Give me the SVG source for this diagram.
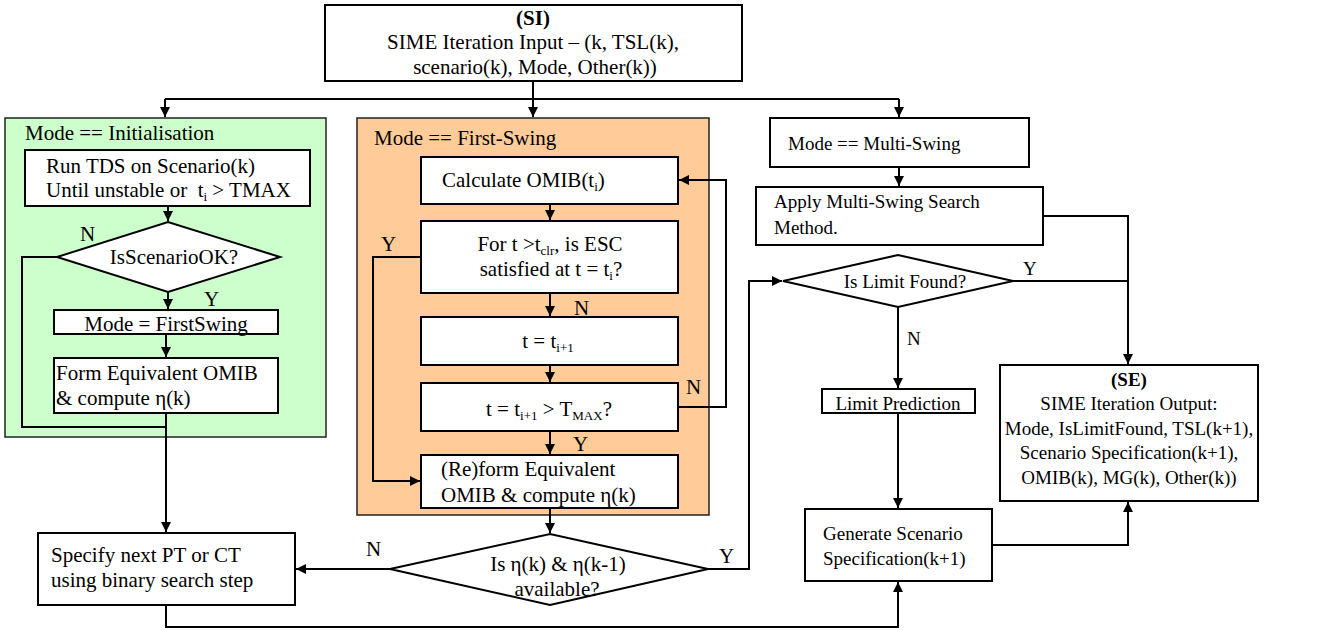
<svg xmlns="http://www.w3.org/2000/svg" width="1323" height="630" viewBox="0 0 1323 630">
<style>
text{font-family:"Liberation Serif","Times New Roman",serif;font-size:21px;fill:#000}
.r{font-size:19px}
.c{text-anchor:middle}
.b{font-weight:bold}
.box{fill:#fff;stroke:#000;stroke-width:2}
.reg{stroke:#222;stroke-width:1.5}
.ln{fill:none;stroke:#000;stroke-width:2}
.sub{font-size:13px}
</style>
<defs>
<marker id="ah" viewBox="0 0 10 10" refX="10" refY="5" markerWidth="10" markerHeight="10" markerUnits="userSpaceOnUse" orient="auto">
<path d="M0,0 L10,5 L0,10 z" fill="#000"/>
</marker>
</defs>
<rect width="1323" height="630" fill="#fff"/>

<g id="region-init"><rect class="reg" x="5" y="118" width="321" height="319" fill="#ccffcc"/><text x="25" y="140">Mode == Initialisation</text></g>
<g id="region-first"><rect class="reg" x="357" y="118" width="352" height="397" fill="#ffcc99"/><text x="374" y="145">Mode == First-Swing</text></g>

<g id="connectors">
<path class="ln" d="M533,81 V99"/>
<path class="ln" d="M165,99 H899"/>
<path class="ln" d="M165,99 V117" marker-end="url(#ah)"/>
<path class="ln" d="M533,99 V117" marker-end="url(#ah)"/>
<path class="ln" d="M899,99 V117" marker-end="url(#ah)"/>
<path class="ln" d="M168,206 V221" marker-end="url(#ah)"/>
<path class="ln" d="M168,292 V309" marker-end="url(#ah)"/>
<path class="ln" d="M166,334 V357" marker-end="url(#ah)"/>
<path class="ln" d="M57,257 H22 V427 H166"/>
<path class="ln" d="M166,413 V532" marker-end="url(#ah)"/>
<path class="ln" d="M550,204 V220" marker-end="url(#ah)"/>
<path class="ln" d="M550,293 V316" marker-end="url(#ah)"/>
<path class="ln" d="M550,365 V382" marker-end="url(#ah)"/>
<path class="ln" d="M550,431 V454" marker-end="url(#ah)"/>
<path class="ln" d="M421,257 H373 V481 H420" marker-end="url(#ah)"/>
<path class="ln" d="M678,407 H726 V180 H679" marker-end="url(#ah)"/>
<path class="ln" d="M550,508 V533" marker-end="url(#ah)"/>
<path class="ln" d="M390,569 H296" marker-end="url(#ah)"/>
<path class="ln" d="M708,569 H749 V281 H782" marker-end="url(#ah)"/>
<path class="ln" d="M899,167 V186" marker-end="url(#ah)"/>
<path class="ln" d="M1043,216 H1128 V364" marker-end="url(#ah)"/>
<path class="ln" d="M1013,281 H1128"/>
<path class="ln" d="M898,307 V388" marker-end="url(#ah)"/>
<path class="ln" d="M898,413 V508" marker-end="url(#ah)"/>
<path class="ln" d="M992,545 H1128 V502" marker-end="url(#ah)"/>
<path class="ln" d="M166,605 V627 H898 V582" marker-end="url(#ah)"/>
<text x="80" y="241">N</text>
<text x="204" y="306">Y</text>
<text x="381" y="251">Y</text>
<text x="574" y="315">N</text>
<text x="686" y="394">N</text>
<text x="573" y="451">Y</text>
<text x="366" y="556">N</text>
<text x="719" y="563">Y</text>
<text class="r" x="1023" y="275">Y</text>
<text class="r" x="907" y="345">N</text>
</g>

<g id="si"><rect class="box" x="325" y="5" width="417" height="76"/>
<text class="c b" x="533" y="25">(SI)</text>
<text class="c" x="533" y="49">SIME Iteration Input – (k, TSL(k),</text>
<text class="c" x="535" y="74">scenario(k), Mode, Other(k))</text></g>

<g id="run-tds"><rect class="box" x="25" y="150" width="285" height="56"/>
<text x="46" y="173">Run TDS on Scenario(k)</text>
<text x="46" y="197" xml:space="preserve">Until unstable or  t<tspan class="sub" dy="4">i</tspan><tspan dy="-4"> &gt; TMAX</tspan></text></g>

<g id="is-scenario-ok"><path class="box" d="M57,257 L168,222 L280,257 L168,292 z"/>
<text class="c" x="174" y="264">IsScenarioOK?</text></g>

<g id="mode-firstswing"><rect class="box" x="54" y="310" width="224" height="24"/>
<text class="c" x="166" y="331">Mode = FirstSwing</text></g>

<g id="form-omib"><rect class="box" x="54" y="358" width="224" height="55"/>
<text x="56" y="380">Form Equivalent OMIB</text>
<text x="56" y="405">&amp; compute η(k)</text></g>

<g id="specify"><rect class="box" x="38" y="533" width="257" height="72"/>
<text x="51" y="562">Specify next PT or CT</text>
<text x="51" y="587">using binary search step</text></g>

<g id="calc-omib"><rect class="box" x="421" y="157" width="257" height="47"/>
<text x="442" y="187">Calculate OMIB(t<tspan class="sub" dy="4">i</tspan><tspan dy="-4">)</tspan></text></g>

<g id="esc"><rect class="box" x="421" y="221" width="257" height="72"/>
<text class="c" x="550" y="251">For t &gt;t<tspan class="sub" dy="4">clr</tspan><tspan dy="-4">, is ESC</tspan></text>
<text class="c" x="551" y="276">satisfied at t = t<tspan class="sub" dy="4">i</tspan><tspan dy="-4">?</tspan></text></g>

<g id="t-next"><rect class="box" x="421" y="317" width="257" height="48"/>
<text class="c" x="548" y="348">t = t<tspan class="sub" dy="4">i+1</tspan></text></g>

<g id="t-max"><rect class="box" x="421" y="383" width="257" height="48"/>
<text class="c" x="549" y="416">t = t<tspan class="sub" dy="4">i+1</tspan><tspan dy="-4"> &gt; T</tspan><tspan class="sub" dy="4">MAX</tspan><tspan dy="-4">?</tspan></text></g>

<g id="reform"><rect class="box" x="421" y="455" width="257" height="53"/>
<text x="441" y="476">(Re)form Equivalent</text>
<text x="441" y="502">OMIB &amp; compute η(k)</text></g>

<g id="eta-avail"><path class="box" d="M390,569 L550,534 L708,569 L550,605 z"/>
<text class="c" x="558" y="571">Is η(k) &amp; η(k-1)</text>
<text class="c" x="557" y="596">available?</text></g>

<g id="multi-swing"><rect class="box" x="770" y="118" width="259" height="49"/>
<text class="r" x="788" y="150">Mode == Multi-Swing</text></g>

<g id="apply-ms"><rect class="box" x="756" y="187" width="287" height="58"/>
<text class="r" x="774" y="208">Apply Multi-Swing Search</text>
<text class="r" x="774" y="234">Method.</text></g>

<g id="limit-found"><path class="box" d="M783,281 L898,255 L1013,281 L898,307 z"/>
<text class="c r" x="905" y="288">Is Limit Found?</text></g>

<g id="limit-pred"><rect class="box" x="822" y="389" width="153" height="24"/>
<text class="c r" x="898" y="410">Limit Prediction</text></g>

<g id="generate"><rect class="box" x="805" y="509" width="187" height="72"/>
<text class="r" x="823" y="540">Generate Scenario</text>
<text class="r" x="823" y="565">Specification(k+1)</text></g>

<g id="se"><rect class="box" x="1000" y="365" width="258" height="136"/>
<text class="c b r" x="1129" y="386">(SE)</text>
<text class="c r" x="1129" y="410">SIME Iteration Output:</text>
<text class="c r" x="1129" y="435">Mode, IsLimitFound, TSL(k+1),</text>
<text class="c r" x="1129" y="459">Scenario Specification(k+1),</text>
<text class="c r" x="1129" y="484">OMIB(k), MG(k), Other(k))</text></g>
</svg>
